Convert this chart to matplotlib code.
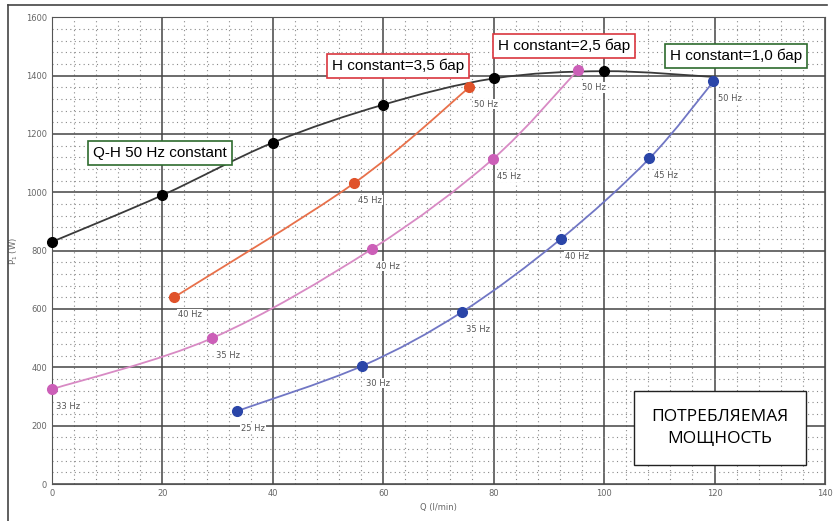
"""Потребляемая мощность насоса: Q-H 50 Hz и кривые при постоянном напоре."""

import matplotlib
matplotlib.use("Agg")
import matplotlib.pyplot as plt
import numpy as np
from matplotlib.path import Path
from matplotlib.patches import PathPatch
from matplotlib.lines import Line2D

# Q-H 50 Hz constant
q_qh = [0, 20, 40, 60, 80, 100]
p_qh = [830, 990, 1170, 1300, 1390, 1415]
q_qh_end = 120
p_qh_end = 1395

# H constant = 3,5 бар
hz_35 = ["40 Hz", "45 Hz", "50 Hz"]
q_35 = [22.1, 54.7, 75.6]
p_35 = [640, 1031, 1360]

# H constant = 2,5 бар
hz_25 = ["33 Hz", "35 Hz", "40 Hz", "45 Hz", "50 Hz"]
q_25 = [0, 29.0, 57.9, 79.8, 95.2]
p_25 = [325, 500, 805, 1113, 1418]

# H constant = 1,0 бар
hz_10 = ["25 Hz", "30 Hz", "35 Hz", "40 Hz", "45 Hz", "50 Hz"]
q_10 = [33.5, 56.1, 74.2, 92.1, 108.2, 119.8]
p_10 = [250, 404, 589, 839, 1116, 1380]

NARROW = ["Liberation Sans", "DejaVu Sans"]


def smooth_path(xs, ys):
    """Кривая Catmull-Rom через точки, как Bezier-путь matplotlib."""
    pts = np.column_stack([xs, ys]).astype(float)
    verts = [pts[0]]
    codes = [Path.MOVETO]
    for i in range(len(pts) - 1):
        p0 = pts[i - 1] if i > 0 else pts[i]
        p1, p2 = pts[i], pts[i + 1]
        p3 = pts[i + 2] if i + 2 < len(pts) else pts[i + 1]
        verts += [p1 + (p2 - p0) / 6, p2 - (p3 - p1) / 6, p2]
        codes += [Path.CURVE4] * 3
    return Path(verts, codes)


def draw_curve(ax, xs, ys, line_color, marker_color, markers=True):
    ax.add_patch(PathPatch(smooth_path(xs, ys), fill=False,
                           edgecolor=line_color, lw=1.3, zorder=3))
    if markers:
        ax.plot(xs, ys, "o", color=marker_color, ms=7, zorder=4, clip_on=False)


def label_box(ax, x, y, text, edge, size=11):
    ax.text(x, y, text, transform=ax.figure.transFigure, family=NARROW,
            fontsize=size, ha="center", va="center", zorder=6,
            bbox=dict(boxstyle="square,pad=0.32", fc="white", ec=edge, lw=1.2))


fig = plt.figure(figsize=(8.33, 5.21), dpi=100)
ax = fig.add_axes([0.0624, 0.071, 0.928, 0.896])

ax.set_xlim(0, 140)
ax.set_ylim(0, 1600)
ax.set_xticks(np.arange(0, 141, 20))
ax.set_yticks(np.arange(0, 1601, 200))
ax.set_xticks(np.arange(0, 141, 4), minor=True)
ax.set_yticks(np.arange(0, 1601, 40), minor=True)
ax.grid(True, which="major", color="#444444", lw=1.1)
ax.grid(True, which="minor", color="#8a8a8a", lw=0.8, linestyle=(0, (1, 3)))
ax.tick_params(which="both", length=0, labelsize=6, labelcolor="#666666")
for s in ax.spines.values():
    s.set_color("#555555")
ax.set_xlabel("Q (l/min)", fontsize=6, color="#666666", labelpad=4)
ax.set_ylabel("P$_1$ (W)", fontsize=6, color="#666666", labelpad=4)

# кривые
draw_curve(ax, q_qh + [q_qh_end], p_qh + [p_qh_end], "#3a3a3a", "black", markers=False)
ax.plot(q_qh, p_qh, "o", color="black", ms=7, zorder=4, clip_on=False)
draw_curve(ax, q_35, p_35, "#e8704a", "#e0522a")
draw_curve(ax, q_25, p_25, "#d88ac4", "#cc5fb8")
draw_curve(ax, q_10, p_10, "#7076c4", "#2a45a8")

# подписи частот
for xs, ys, labs in [(q_35, p_35, hz_35), (q_25, p_25, hz_25), (q_10, p_10, hz_10)]:
    for x, y, lab in zip(xs, ys, labs):
        ax.annotate(lab, (x, y), xytext=(3, -14), textcoords="offset points",
                    fontsize=6, color="#555555", zorder=5,
                    bbox=dict(boxstyle="square,pad=0.1", fc="white", ec="none"))

# текстовые блоки
W, H = 833, 521
label_box(ax, 160 / W, 1 - 153 / H, "Q-H 50 Hz constant", "#2e6b2e")
label_box(ax, 398 / W, 1 - 66 / H, "H constant=3,5 бар", "#d9363e")
label_box(ax, 564 / W, 1 - 46 / H, "H constant=2,5 бар", "#d9363e")
label_box(ax, 736 / W, 1 - 56 / H, "H constant=1,0 бар", "#2e6b2e")
ax.text(720 / W, 1 - 428 / H, "ПОТРЕБЛЯЕМАЯ\nМОЩНОСТЬ", transform=fig.transFigure,
        family=["Open Sans", "DejaVu Sans"], fontsize=12.5, ha="center", va="center",
        linespacing=1.55, zorder=6,
        bbox=dict(boxstyle="square,pad=1.0", fc="white", ec="#222222", lw=1.0))

# рамка рисунка
fig.add_artist(Line2D([8 / W, 8 / W], [0, 1 - 5 / H], color="#444444", lw=1.2))
fig.add_artist(Line2D([8 / W, 827 / W], [1 - 5 / H, 1 - 5 / H], color="#444444", lw=1.2))

fig.savefig("out.png", dpi=100)
